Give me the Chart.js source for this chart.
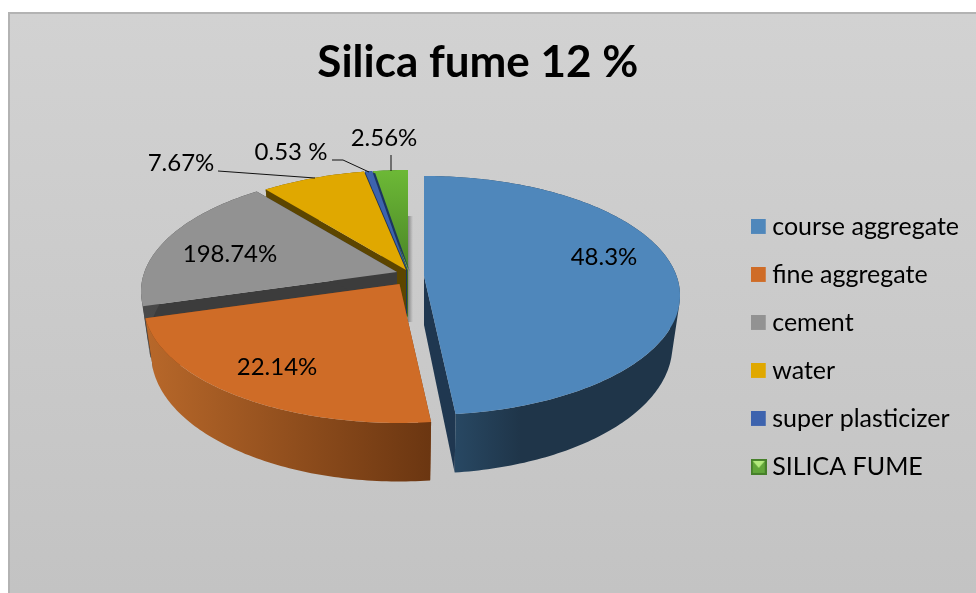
<!DOCTYPE html>
<html lang="en">
<head>
<meta charset="UTF-8">
<title>Silica fume 12 %</title>
<script src="https://cdn.jsdelivr.net/npm/chart.js"></script>
<style>
html, body { margin: 0; padding: 0; background: #fff; overflow: hidden; }
#frame { position: absolute; left: 8px; top: 12px; right: 0; bottom: 0;
  border-left: 2px solid #b3b3b3; border-top: 2px solid #b3b3b3;
  background: linear-gradient(#d2d2d2, #c3c3c3); }
#pie { position: absolute; left: 0; top: 0; }
</style>
</head>
<body>
<div id="frame"></div>
<canvas id="pie" width="976" height="593"></canvas>
<script>
const categories = ['course aggregate', 'fine aggregate', 'cement', 'water', 'super plasticizer', 'SILICA FUME'];
const values = [48.3, 22.14, 18.74, 7.67, 0.53, 2.56];
const valueLabels = ['48.3%', '22.14%', '198.74%', '7.67%', '0.53 %', '2.56%'];
const sliceColors = ['#4f87bb', '#cf6c27', '#929292', '#e0a800', '#3d63ae', '#62ab33'];
const cutColors = ['#1f3750', '#7a3f16', '#3c3c3c', '#5c4500', '#1c3560', '#3f6f20'];
const wallLeft = ['#284863', '#b8682a', '#4a4a4a', '#5c4500', '#1c3560', '#3f6f20'];
const wallRight = ['#1f3549', '#6b3611', '#3c3c3c', '#5c4500', '#1c3560', '#3f6f20'];

// pie look: each slice has its own apex because the pie is exploded
const apex = [[424, 276], [399.5, 284], [397, 272], [406, 270], [407, 270], [408, 270]];
const drawOrder = [5, 4, 3, 2, 0, 1];
const RX = 252.6, RY = 116.3, PERSP = 0.163, DEPTH = 49;

// where the value labels sit, and their leader lines
const labelSpots = [[604, 257], [277, 367], [230, 254], [181, 163], [291, 152], [384, 138]];
const leaders = [
    [[218, 171], [315, 178]],
    [[332, 160], [343, 160], [369, 172]],
    [[391, 155], [391, 171]]
];

function rimPoint(i, angle) {
    const s = 1 / (1 - PERSP * Math.sin(angle));
    return {
        x: apex[i][0] + RX * Math.cos(angle) * s,
        y: apex[i][1] + RY * Math.sin(angle) * s,
        s: s
    };
}

function lower(i, p) {
    return { x: apex[i][0] + (p.x - apex[i][0]) * 0.97, y: p.y + DEPTH * p.s };
}

function rimPoints(i, arc) {
    const pts = [];
    const steps = Math.max(4, Math.ceil((arc.endAngle - arc.startAngle) * 60));
    for (let k = 0; k <= steps; k++) {
        pts.push(rimPoint(i, arc.startAngle + (arc.endAngle - arc.startAngle) * k / steps));
    }
    return pts;
}

function tracePoly(ctx, pts) {
    pts.forEach((p, k) => k ? ctx.lineTo(p.x, p.y) : ctx.moveTo(p.x, p.y));
    ctx.closePath();
}

function fillPoly(ctx, pts, fill) {
    ctx.beginPath();
    tracePoly(ctx, pts);
    ctx.fillStyle = fill;
    ctx.fill();
}

function polyArea(pts) {
    let a = 0;
    pts.forEach((p, k) => {
        const n = pts[(k + 1) % pts.length];
        a += p.x * n.y - n.x * p.y;
    });
    return a;
}

function drawSlice(ctx, i, arc) {
    const top = { x: apex[i][0], y: apex[i][1], s: 1 };
    const rim = rimPoints(i, arc);
    const topBottom = lower(i, top);

    // flat cut faces first
    [rim[0], rim[rim.length - 1]].forEach(p => {
        fillPoly(ctx, [top, p, lower(i, p), topBottom], cutColors[i]);
    });

    // outer wall: one path of quads, all wound the same way so folds don't cancel
    const xs = rim.map(p => p.x);
    const grad = ctx.createLinearGradient(Math.min(...xs), 0, Math.max(...xs), 0);
    if (i === 0) {
        grad.addColorStop(0.12, wallLeft[i]);
        grad.addColorStop(0.38, wallRight[i]);
    } else {
        grad.addColorStop(0, wallLeft[i]);
        grad.addColorStop(1, wallRight[i]);
    }
    ctx.beginPath();
    for (let k = 0; k < rim.length - 1; k++) {
        const quad = [rim[k], rim[k + 1], lower(i, rim[k + 1]), lower(i, rim[k])];
        tracePoly(ctx, polyArea(quad) < 0 ? quad.reverse() : quad);
    }
    ctx.fillStyle = grad;
    ctx.fill();

    // super plasticizer shows its dark side to the right of the strip
    if (i === 4) {
        fillPoly(ctx, [top].concat(rim).map(p => ({ x: p.x + 3, y: p.y + 2 })), cutColors[i]);
    }

    // top face
    let topFill = sliceColors[i];
    if (i === 5) {
        topFill = ctx.createLinearGradient(0, 172, 0, 270);
        topFill.addColorStop(0, '#6cb836');
        topFill.addColorStop(1, '#4a8526');
    }
    fillPoly(ctx, [top].concat(rim), topFill);
}

const pie3d = {
    id: 'pie3d',
    beforeDatasetDraw(chart, args) {
        const ctx = chart.ctx;
        const arcs = args.meta.data;

        // soft shadow next to the green slice
        const shade = ctx.createLinearGradient(408, 0, 413, 0);
        shade.addColorStop(0, '#858585');
        shade.addColorStop(1, 'rgba(140,140,140,0)');
        ctx.fillStyle = shade;
        ctx.fillRect(408, 216, 5, 106);

        drawOrder.forEach(i => drawSlice(ctx, i, arcs[i]));
        return false;
    },
    afterDatasetsDraw(chart) {
        const ctx = chart.ctx;
        ctx.save();
        ctx.strokeStyle = '#111';
        ctx.lineWidth = 1;
        leaders.forEach(line => {
            ctx.beginPath();
            line.forEach((p, k) => k ? ctx.lineTo(p[0], p[1]) : ctx.moveTo(p[0], p[1]));
            ctx.stroke();
        });
        ctx.fillStyle = '#000';
        ctx.font = '24px Lato';
        ctx.textAlign = 'center';
        ctx.textBaseline = 'middle';
        valueLabels.forEach((t, i) => ctx.fillText(t, labelSpots[i][0], labelSpots[i][1]));
        ctx.restore();
    }
};

function legendIcon(i) {
    const c = document.createElement('canvas');
    c.width = 16;
    c.height = 16;
    const g = c.getContext('2d');
    if (i === 5) {
        g.fillStyle = '#46802a';
        g.fillRect(0, 0, 16, 16);
        g.fillStyle = '#62a63a';
        g.fillRect(2, 2, 12, 12);
        g.fillStyle = '#b4ea7e';
        g.beginPath();
        g.moveTo(2, 2); g.lineTo(14, 2); g.lineTo(8, 9); g.closePath();
        g.fill();
    } else {
        g.fillStyle = sliceColors[i];
        g.fillRect(0, 0, 15, 15);
    }
    return c;
}

new Chart(document.getElementById('pie'), {
    type: 'pie',
    data: {
        labels: categories,
        datasets: [{ data: values, backgroundColor: sliceColors }]
    },
    plugins: [pie3d],
    options: {
        responsive: false,
        animation: false,
        layout: { padding: { left: 221, right: 7, bottom: 1 } },
        plugins: {
            tooltip: { enabled: false },
            title: {
                display: true,
                text: 'Silica fume 12 %',
                fullSize: false,
                color: '#000',
                font: { family: 'Lato', size: 44, weight: 'bold' },
                padding: { top: 36, bottom: 13 }
            },
            legend: {
                position: 'right',
                fullSize: false,
                labels: {
                    usePointStyle: true,
                    pointStyleWidth: 2,
                    padding: 23,
                    color: '#000',
                    font: { family: 'Lato', size: 25 },
                    generateLabels(chart) {
                        return Chart.overrides.pie.plugins.legend.labels.generateLabels(chart)
                            .map((item, i) => Object.assign(item, { pointStyle: legendIcon(i) }));
                    }
                }
            }
        }
    }
});
</script>
</body>
</html>
